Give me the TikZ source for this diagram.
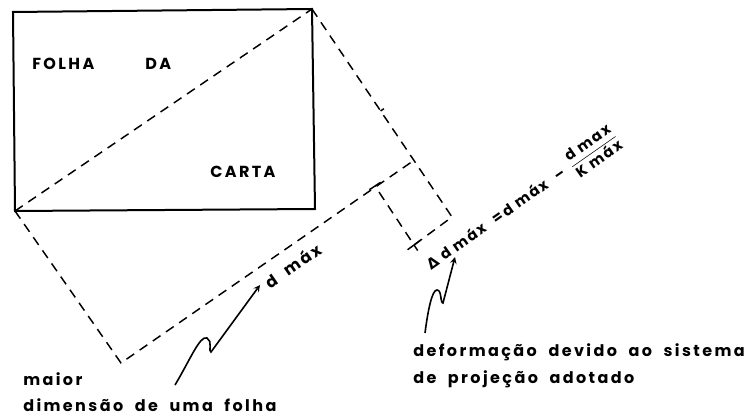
\documentclass[tikz,border=0pt]{standalone}
\usepackage{fontspec}
\setmainfont{Poppins}[LetterSpace=15,WordSpace=2]
\newfontfamily\eqfont{Poppins}[LetterSpace=12]
\newfontfamily\symfont{DejaVu Sans}
\usetikzlibrary{calc}

\begin{document}
\begin{tikzpicture}[x=0.75pt,y=-0.75pt,
  dline/.style={dashed,dash pattern=on 7pt off 5pt,line width=1.1pt},
  tick/.style={line width=1.1pt},
  lbl/.style={font=\bfseries\fontsize{12}{14}\selectfont,inner sep=0pt},
  eqlbl/.style={font=\eqfont\bfseries\fontsize{11}{13}\selectfont,inner sep=0pt},
  squig/.style={->,>=stealth,line width=1.2pt}]

\useasboundingbox (0,0) rectangle (752,416);

\coordinate (TL) at (13,12);
\coordinate (TR) at (312,9);
\coordinate (BR) at (315,209);
\coordinate (BL) at (15,211);
\coordinate (P) at (121,363);
\coordinate (Q) at (413,161);
\coordinate (S) at (375,186);
\coordinate (R) at (452,217);
\coordinate (U) at (414,245);
\coordinate (M) at ($(TR)!0.49!(R)$);

\draw[line width=1.5pt] (TL) -- (TR) -- (BR) -- (BL) -- cycle;
\draw[dline] (BL) -- (TR);
\draw[dline] (TR) -- (R) -- (U) -- (S);
\draw[dline] (BL) -- (P) -- (Q);

% marcas de cota
\draw[tick] ($(S)!-5pt!(Q)$) -- ($(S)!5pt!(Q)$);
\draw[tick] ($(U)!-6pt!(R)$) -- ($(U)!6pt!(R)$);
\draw[tick] ($(U)!-5pt!(S)$) -- (U);
\draw[tick] (M) -- ($(M)!3pt!90:(R)$);

\node[lbl,anchor=base west] (folha) at (32,70) {FOLHA};
\node[lbl,anchor=base west] (da) at (145,70) {DA};
\node[lbl,anchor=base west] (carta) at (210,178) {CARTA};
\node[lbl,rotate=34.7] (dmax) at (293,266) {d máx};
\node[eqlbl,rotate=35,anchor=west] (eq) at (428,266)
  {{\symfont\bfseries Δ}\,\,d máx\hspace{8pt}=\,d máx\hspace{8pt}–\hspace{6pt}\({\displaystyle\frac{\hbox{d max}}{\hbox{K máx}}}\)};

\node[lbl,anchor=base west] (maior) at (23,385) {maior};
\node[lbl,anchor=base west] (dimensao) at (23,411) {dimensão de uma folha};
\node[lbl,anchor=base west] (deform) at (413,356) {deformação devido ao sistema};
\node[lbl,anchor=base west] (projecao) at (413,383) {de projeção adotado};

\coordinate (a1) at (175,385);
\coordinate (t1) at (260,285);
\coordinate (a2) at (425,333);
\coordinate (t2) at (455,257);

\draw[squig] (a1) .. controls (190,360) and (200,335) .. (207,338)
  .. controls (213,341) and (208,352) .. (211,352) -- (t1);
\draw[squig] (a2) .. controls (428,310) and (432,290) .. (437,290)
  .. controls (442,290) and (440,303) .. (443,303) -- (t2);

\end{tikzpicture}
\end{document}
